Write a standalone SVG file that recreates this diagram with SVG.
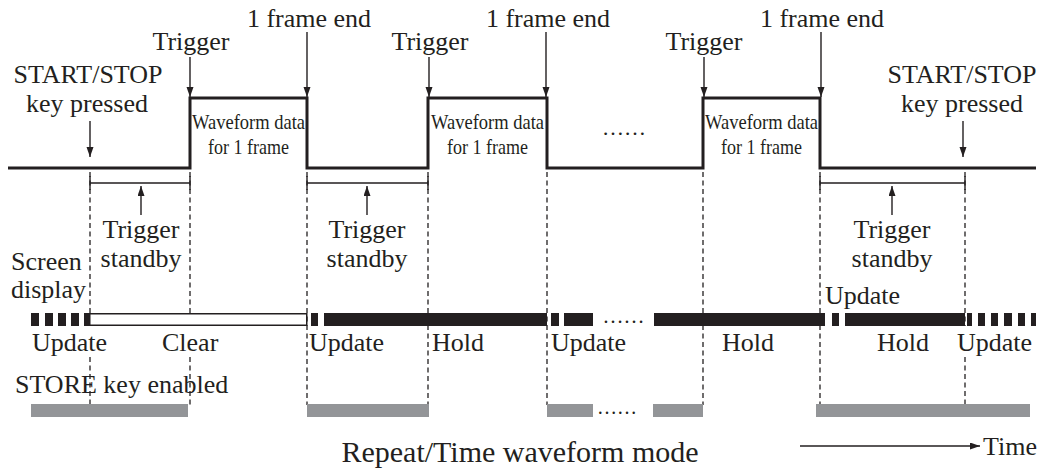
<svg xmlns="http://www.w3.org/2000/svg" width="1049" height="469" viewBox="0 0 1049 469">
<style>
text{font-family:"Liberation Serif","Times New Roman",serif;fill:#231f20}
.t{font-size:26px}
.b{font-size:21px}
.m{text-anchor:middle}
.thick{stroke:#231f20;stroke-width:3;fill:none}
.arr{stroke:#231f20;stroke-width:1.4;fill:none}
.dash{stroke:#231f20;stroke-width:1.3;stroke-dasharray:5,3.5;fill:none}
.blk{fill:#231f20}
.gray{fill:#939598}
</style>
<defs>
<marker id="ah" markerUnits="userSpaceOnUse" markerWidth="11" markerHeight="8" refX="10" refY="3.5" orient="auto">
<path d="M0,0 L10,3.5 L0,7 Z" fill="#231f20"/>
</marker>
</defs>
<rect width="1049" height="469" fill="#fff"/>

<g id="guides">
<path class="dash" d="M90,172 V326 M90,357 V405"/>
<path class="dash" d="M190,172 V326 M190,357 V405"/>
<path class="dash" d="M307,172 V405"/>
<path class="dash" d="M428,172 V405"/>
<path class="dash" d="M547,172 V405"/>
<path class="dash" d="M703,172 V405"/>
<path class="dash" d="M820,172 V405"/>
<path class="dash" d="M965,172 V326 M965,357 V405"/>
</g>

<g id="signal">
<path class="thick" d="M8,168 H190 V98 H307 V168 H428 V98 H547 V168 H703 V98 H820 V168 H1036"/>
<text class="b m" x="248.5" y="129" textLength="113" lengthAdjust="spacingAndGlyphs">Waveform data</text>
<text class="b m" x="248.5" y="154" textLength="81" lengthAdjust="spacingAndGlyphs">for 1 frame</text>
<text class="b m" x="487.5" y="129" textLength="113" lengthAdjust="spacingAndGlyphs">Waveform data</text>
<text class="b m" x="487.5" y="154" textLength="81" lengthAdjust="spacingAndGlyphs">for 1 frame</text>
<text class="b m" x="761.5" y="129" textLength="113" lengthAdjust="spacingAndGlyphs">Waveform data</text>
<text class="b m" x="761.5" y="154" textLength="81" lengthAdjust="spacingAndGlyphs">for 1 frame</text>
<text class="m" x="624" y="135" font-size="22">……</text>
</g>

<g id="top-labels">
<text class="t m" x="309" y="27">1 frame end</text>
<text class="t m" x="548" y="27">1 frame end</text>
<text class="t m" x="822" y="27">1 frame end</text>
<text class="t m" x="191" y="50">Trigger</text>
<text class="t m" x="430" y="50">Trigger</text>
<text class="t m" x="704" y="50">Trigger</text>
<text class="t m" x="88" y="83">START/STOP</text>
<text class="t m" x="87" y="112">key pressed</text>
<text class="t m" x="962" y="83">START/STOP</text>
<text class="t m" x="962" y="112">key pressed</text>
</g>

<g id="standby-labels">
<text class="t m" x="141" y="238">Trigger</text>
<text class="t m" x="141" y="267">standby</text>
<text class="t m" x="367" y="238">Trigger</text>
<text class="t m" x="367" y="267">standby</text>
<text class="t m" x="892" y="238">Trigger</text>
<text class="t m" x="892" y="267">standby</text>
</g>

<g id="screen-display">
<text class="t" x="11" y="270">Screen</text>
<text class="t" x="11" y="298">display</text>
<text class="t" x="825" y="304">Update</text>
<rect class="blk" x="31" y="313" width="8" height="13"/>
<rect class="blk" x="45" y="313" width="8" height="13"/>
<rect class="blk" x="58" y="313" width="8" height="13"/>
<rect class="blk" x="71" y="313" width="8" height="13"/>
<rect class="blk" x="84" y="313" width="5" height="13"/>
<rect x="89.75" y="313.75" width="217" height="11.5" fill="#fff" stroke="#231f20" stroke-width="1.5"/>
<rect class="blk" x="311" y="313" width="7" height="13"/>
<rect class="blk" x="324" y="313" width="223" height="13"/>
<rect class="blk" x="551" y="313" width="8" height="13"/>
<rect class="blk" x="564" y="313" width="29" height="13"/>
<text class="m" x="623.5" y="323" font-size="21">……</text>
<rect class="blk" x="654" y="313" width="171" height="13"/>
<rect class="blk" x="832" y="313" width="7" height="13"/>
<rect class="blk" x="845" y="313" width="120" height="13"/>
<rect class="blk" x="967" y="313" width="5" height="13"/>
<rect class="blk" x="978" y="313" width="7" height="13"/>
<rect class="blk" x="991" y="313" width="7" height="13"/>
<rect class="blk" x="1004" y="313" width="8" height="13"/>
<rect class="blk" x="1018" y="313" width="7" height="13"/>
<rect class="blk" x="1031" y="313" width="5" height="13"/>
<text class="t" x="32" y="351">Update</text>
<text class="t" x="162" y="351">Clear</text>
<text class="t" x="309" y="351">Update</text>
<text class="t" x="432" y="351">Hold</text>
<text class="t" x="551" y="351">Update</text>
<text class="t" x="722" y="351">Hold</text>
<text class="t" x="877" y="351">Hold</text>
<text class="t" x="957" y="351">Update</text>
</g>

<g id="store-key">
<text class="t" x="15" y="393">STORE key enabled</text>
<rect class="gray" x="31" y="404" width="157" height="13"/>
<rect class="gray" x="307" y="404" width="122" height="13"/>
<rect class="gray" x="547" y="404" width="46" height="13"/>
<text class="m" x="617" y="414" font-size="20">……</text>
<rect class="gray" x="653" y="404" width="50" height="13"/>
<rect class="gray" x="816" y="404" width="214" height="13"/>
</g>

<g id="footer">
<text class="m" x="520" y="462" font-size="30">Repeat/Time waveform mode</text>
<text class="t" x="983" y="455">Time</text>
</g>

<g id="connectors">
<line class="arr" x1="307" y1="32" x2="307" y2="97" marker-end="url(#ah)"/>
<line class="arr" x1="546" y1="32" x2="546" y2="97" marker-end="url(#ah)"/>
<line class="arr" x1="821" y1="32" x2="821" y2="97" marker-end="url(#ah)"/>
<line class="arr" x1="190" y1="57" x2="190" y2="97" marker-end="url(#ah)"/>
<line class="arr" x1="429" y1="57" x2="429" y2="97" marker-end="url(#ah)"/>
<line class="arr" x1="704" y1="57" x2="704" y2="97" marker-end="url(#ah)"/>
<line class="arr" x1="90" y1="121" x2="90" y2="157" marker-end="url(#ah)"/>
<line class="arr" x1="963" y1="121" x2="963" y2="157" marker-end="url(#ah)"/>
<path class="arr" d="M90,176 V190 M90,183 H190 M190,176 V190"/>
<path class="arr" d="M307,176 V190 M307,183 H428 M428,176 V190"/>
<path class="arr" d="M820,176 V190 M820,183 H965 M965,176 V190"/>
<line class="arr" x1="141" y1="215" x2="141" y2="186" marker-end="url(#ah)"/>
<line class="arr" x1="367" y1="215" x2="367" y2="186" marker-end="url(#ah)"/>
<line class="arr" x1="892" y1="215" x2="892" y2="186" marker-end="url(#ah)"/>
<line class="arr" x1="800" y1="446" x2="980" y2="446" marker-end="url(#ah)"/>
</g>
</svg>
